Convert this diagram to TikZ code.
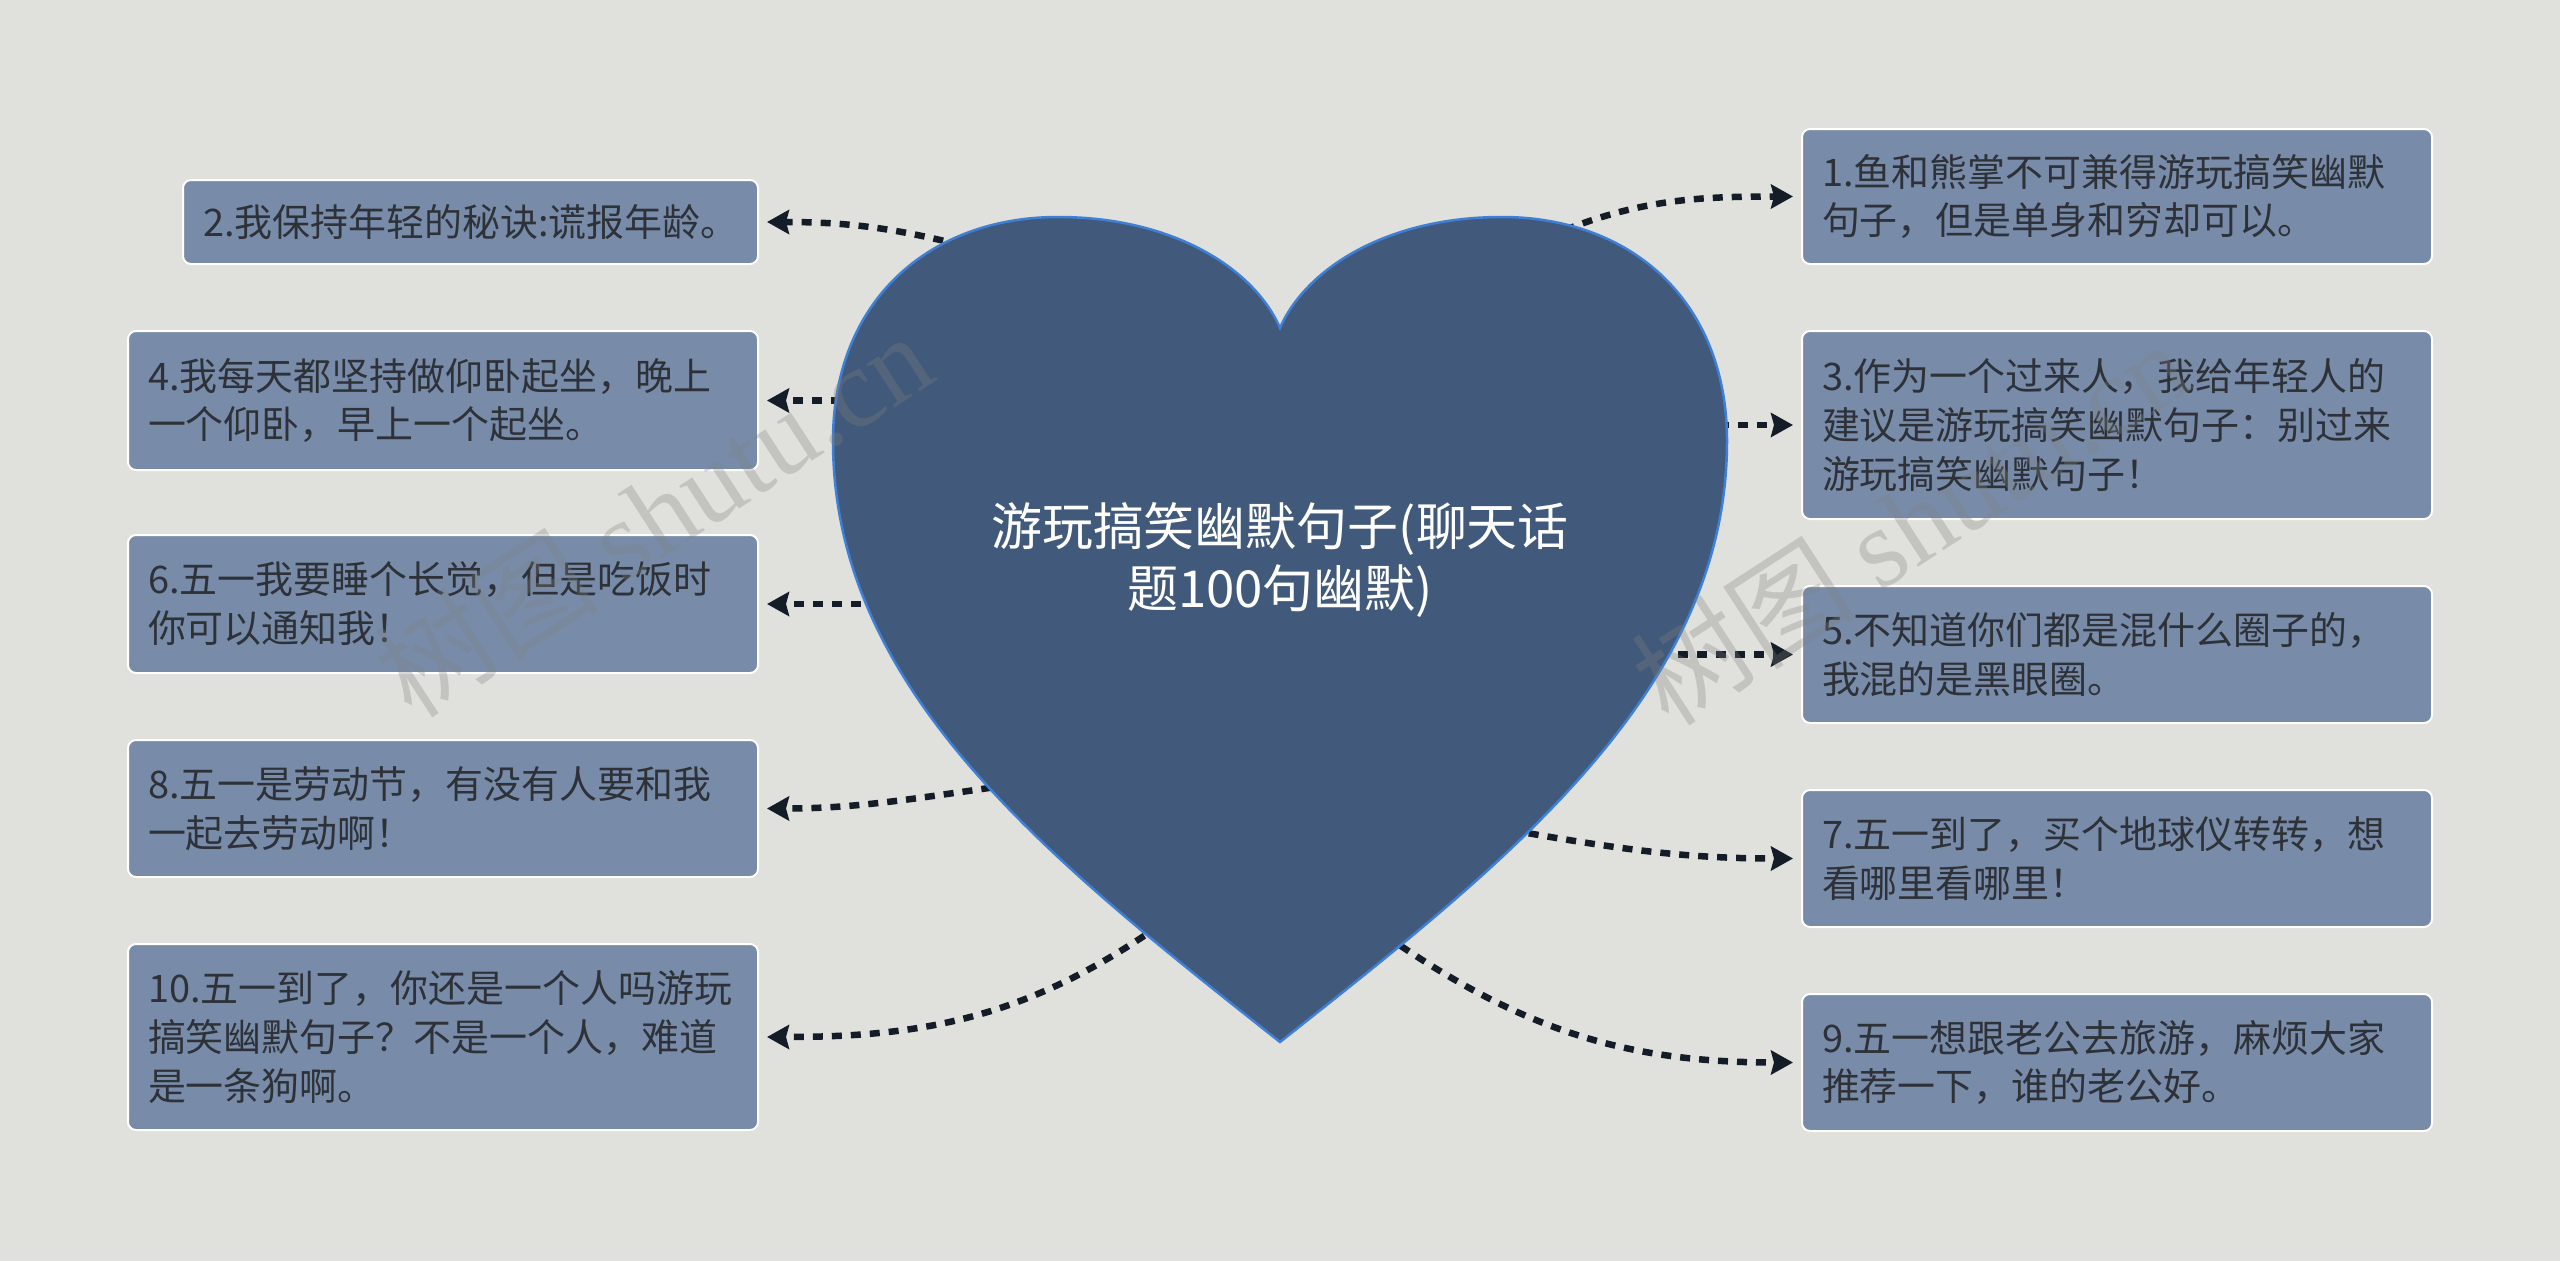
\documentclass[tikz,border=0pt]{standalone}
\usepackage{fontspec}
\setmainfont{Noto Sans CJK SC}
\newfontfamily\markfont{Liberation Serif}
\usetikzlibrary{arrows.meta}
\definecolor{bgcol}{HTML}{E0E1DC}
\definecolor{boxfill}{HTML}{788CAA}
\definecolor{boxtext}{HTML}{2E3238}
\definecolor{heartfill}{HTML}{41597A}
\definecolor{heartline}{HTML}{3F7FD6}
\definecolor{arrowcol}{HTML}{141C28}

\begin{document}
\begin{tikzpicture}[
      itembox/.style={rectangle, rounded corners=0.08cm, draw=white, line width=0.02cm,
        fill=boxfill, text=boxtext, text width=5.9cm, inner xsep=0.2cm, inner ysep=0pt,
        align=left, font=\fontsize{10.8pt}{13.9pt}\selectfont},
      dotarrow/.style={draw=arrowcol, line width=0.065cm, dash pattern=on 0.1cm off 0.09cm,
        -{Stealth[length=0.22cm, width=0.24cm, inset=0.03cm]}, shorten >=0.08cm},
      watermark/.style={text=gray, text opacity=0.3, font=\fontsize{32pt}{36pt}\selectfont}]

    \useasboundingbox (0,0) rectangle (25.6,-12.61);
    \fill[bgcol] (0,0) rectangle (25.6,-12.61);

    \node[itembox, minimum height=1.35cm, anchor=west] (b1) at (18.01,-1.965)
      {1.鱼和熊掌不可兼得游玩搞笑幽默\\句子，但是单身和穷却可以。};
    \node[itembox, minimum height=1.88cm, anchor=west] (b3) at (18.01,-4.25)
      {3.作为一个过来人，我给年轻人的\\建议是游玩搞笑幽默句子：别过来\\游玩搞笑幽默句子！};
    \node[itembox, minimum height=1.37cm, anchor=west] (b5) at (18.01,-6.545)
      {5.不知道你们都是混什么圈子的，\\我混的是黑眼圈。};
    \node[itembox, minimum height=1.37cm, anchor=west] (b7) at (18.01,-8.585)
      {7.五一到了，买个地球仪转转，想\\看哪里看哪里！};
    \node[itembox, minimum height=1.37cm, anchor=west] (b9) at (18.01,-10.625)
      {9.五一想跟老公去旅游，麻烦大家\\推荐一下，谁的老公好。};

    \node[itembox, text width=5.35cm, minimum height=0.84cm, anchor=east] (b2) at (7.59,-2.22)
      {2.我保持年轻的秘诀:谎报年龄。};
    \node[itembox, minimum height=1.39cm, anchor=east] (b4) at (7.59,-4.005)
      {4.我每天都坚持做仰卧起坐，晚上\\一个仰卧，早上一个起坐。};
    \node[itembox, minimum height=1.38cm, anchor=east] (b6) at (7.59,-6.04)
      {6.五一我要睡个长觉，但是吃饭时\\你可以通知我！};
    \node[itembox, minimum height=1.37cm, anchor=east] (b8) at (7.59,-8.085)
      {8.五一是劳动节，有没有人要和我\\一起去劳动啊！};
    \node[itembox, minimum height=1.86cm, anchor=east] (b10) at (7.59,-10.37)
      {10.五一到了，你还是一个人吗游玩\\搞笑幽默句子？不是一个人，难道\\是一条狗啊。};

    \coordinate (s1) at (15.30,-2.45);
    \coordinate (s3) at (17.00,-4.25);
    \coordinate (s5) at (16.40,-6.545);
    \coordinate (s7) at (15.10,-8.30);
    \coordinate (s9) at (13.85,-9.35);
    \coordinate (s2) at (9.80,-2.50);
    \coordinate (s4) at (8.60,-4.005);
    \coordinate (s6) at (8.80,-6.04);
    \coordinate (s8) at (10.10,-7.85);
    \coordinate (s10) at (11.60,-9.25);

    \draw[dotarrow] (s1) to[out=25, in=180] (b1.west);
    \draw[dotarrow] (s3) -- (b3.west);
    \draw[dotarrow] (s5) -- (b5.west);
    \draw[dotarrow] (s7) to[out=-10, in=180] (b7.west);
    \draw[dotarrow] (s9) to[out=-35, in=180] (b9.west);
    \draw[dotarrow] (s2) to[out=165, in=0] (b2.east);
    \draw[dotarrow] (s4) -- (b4.east);
    \draw[dotarrow] (s6) -- (b6.east);
    \draw[dotarrow] (s8) to[out=188, in=0] (b8.east);
    \draw[dotarrow] (s10) to[out=215, in=0] (b10.east);

    \draw[fill=heartfill, draw=heartline, line width=0.025cm]
      (12.80,-10.42) .. controls (10.50,-8.60) and (8.33,-6.90) .. (8.33,-4.41)
      .. controls (8.33,-3.00) and (9.30,-2.17) .. (10.58,-2.17)
      .. controls (11.75,-2.17) and (12.55,-2.70) .. (12.80,-3.28)
      .. controls (13.05,-2.70) and (13.85,-2.17) .. (15.02,-2.17)
      .. controls (16.30,-2.17) and (17.27,-3.00) .. (17.27,-4.41)
      .. controls (17.27,-6.90) and (15.10,-8.60) .. (12.80,-10.42) -- cycle;

    \node[text=white, align=center, font=\fontsize{14.5pt}{17.6pt}\selectfont] (title) at (12.80,-5.60)
      {游玩搞笑幽默句子(聊天话\\题100句幽默)};

    \node[watermark, rotate=33] (wm1) at (6.53,-5.14) {树图 {\markfont shutu.cn}};
    \node[watermark, rotate=33] (wm2) at (19.10,-5.22) {树图 {\markfont shutu.cn}};

  \end{tikzpicture}
\end{document}
